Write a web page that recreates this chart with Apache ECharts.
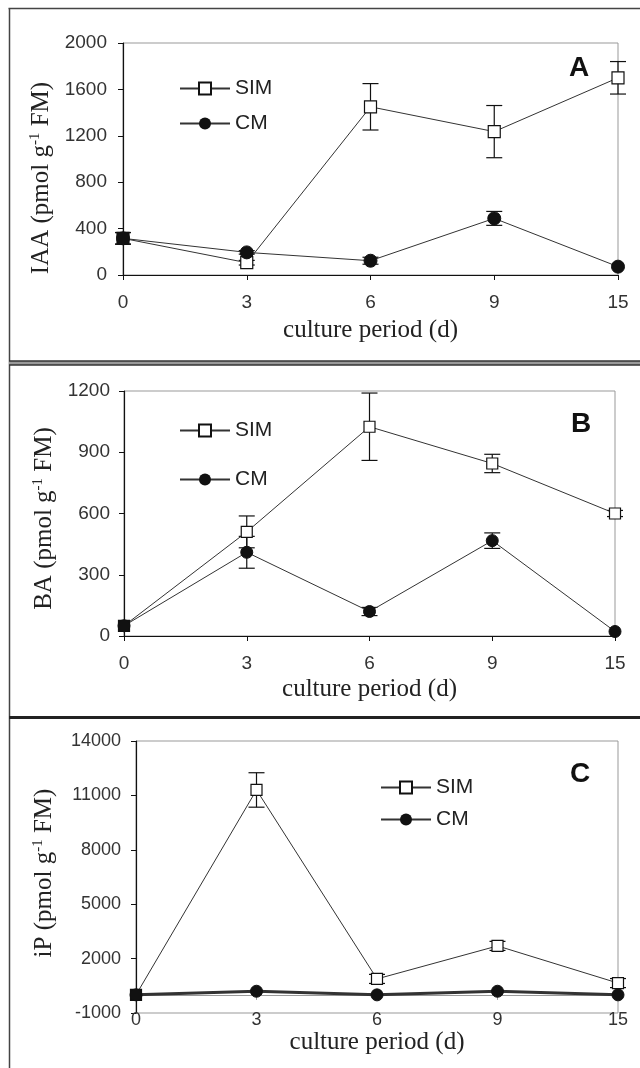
<!DOCTYPE html>
<html>
<head>
<meta charset="utf-8">
<script src="https://cdn.jsdelivr.net/npm/echarts@6/dist/echarts.min.js"></script>
<style>
html,body{margin:0;padding:0;background:#fff;}
#c{width:640px;height:1068px;}
</style>
</head>
<body>
<div id="c"></div>
<script>
// ---- data ----
const days = ['0', '3', '6', '9', '15'];

const iaaSIM = [316, 106, 1450, 1236, 1700];
const iaaSIMErr = [50, 20, 200, 225, 140];
const iaaCM = [316, 195, 123, 488, 72];
const iaaCMErr = [50, 15, 30, 60, 0];

const baSIM = [50, 510, 1025, 845, 600];
const baSIMErr = [0, 78, 165, 45, 15];
const baCM = [50, 410, 120, 467, 22];
const baCMErr = [0, 78, 20, 38, 0];

const ipSIM = [0, 11300, 880, 2700, 650];
const ipSIMErr = [0, 950, 250, 250, 250];
const ipCM = [0, 200, 0, 200, 0];
const ipCMErr = [0, 0, 0, 0, 0];

const iaaTicks = [0, 400, 800, 1200, 1600, 2000];
const baTicks = [0, 300, 600, 900, 1200];
const ipTicks = [-1000, 2000, 5000, 8000, 11000, 14000];

// ---- helpers ----
const SERIF = "'Liberation Serif', 'Times New Roman', serif";
const SANS = "'Liberation Sans', Arial, sans-serif";

function errRender(cap) {
  return function (params, api) {
    const x = api.value(0), v = api.value(1), e = api.value(2);
    if (!e) return null;
    const hi = api.coord([x, v + e]);
    const lo = api.coord([x, v - e]);
    const st = { stroke: '#111', lineWidth: 1.2 };
    return {
      type: 'group',
      children: [
        { type: 'line', shape: { x1: hi[0], y1: hi[1], x2: lo[0], y2: lo[1] }, style: st },
        { type: 'line', shape: { x1: hi[0] - cap, y1: hi[1], x2: hi[0] + cap, y2: hi[1] }, style: st },
        { type: 'line', shape: { x1: lo[0] - cap, y1: lo[1], x2: lo[0] + cap, y2: lo[1] }, style: st }
      ]
    };
  };
}
function errData(vals, errs) { return vals.map((v, i) => [i, v, errs[i]]); }

function simData(vals) {
  return vals.map((v, i) => i === 0 ? { value: v, itemStyle: { color: '#111' } } : v);
}

const grids = [
  { left: 123, right: 22, top: 43, height: 232 },
  { left: 124, right: 25, top: 391, height: 245 },
  { left: 136, right: 22, top: 741, height: 272 }
];

function xAxis(i, labelMargin, nameGap, lineColor, fs) {
  return {
    type: 'category', gridIndex: i, data: days, boundaryGap: false,
    axisLine: { lineStyle: { color: lineColor, width: 1.2 } },
    axisTick: { show: true, length: 5, lineStyle: { color: lineColor } },
    axisLabel: { margin: labelMargin, fontFamily: SANS, fontSize: fs, color: '#333' },
    name: 'culture period (d)', nameLocation: 'middle', nameGap: nameGap,
    nameTextStyle: { fontFamily: SERIF, fontSize: 25, color: '#222' },
    splitLine: { show: false }
  };
}

function yAxis(i, min, max, ticks, title, gap, pad, margin, fs) {
  return {
    type: 'value', gridIndex: i, min: min, max: max,
    axisLine: { show: true, lineStyle: { color: '#111', width: 1.2 } },
    axisTick: { show: true, length: 5, lineStyle: { color: '#111' }, customValues: ticks },
    axisLabel: { margin: margin, fontFamily: SANS, fontSize: fs, color: '#333', customValues: ticks,
      formatter: v => String(v) },
    splitLine: { show: false },
    name: title, nameLocation: 'middle', nameGap: gap,
    nameTextStyle: {
      fontFamily: SERIF, fontSize: 25, color: '#222', padding: pad,
      rich: { s: { fontFamily: SERIF, fontSize: 15, color: '#222', verticalAlign: 'top', padding: [0, 0, 12, 0] } }
    }
  };
}

function lineSeries(name, i, data, symbol, size, lw) {
  const isSim = name === 'SIM';
  return {
    name: name, type: 'line', xAxisIndex: i, yAxisIndex: i, data: data,
    symbol: symbol, symbolSize: size, z: 3,
    lineStyle: { color: '#333', width: lw },
    itemStyle: isSim ? { color: '#fff', borderColor: '#111', borderWidth: 1.2 } : { color: '#111', borderColor: '#111' },
    emphasis: { disabled: true }, animation: false
  };
}
function errSeries(i, vals, errs) {
  return {
    type: 'custom', xAxisIndex: i, yAxisIndex: i, z: 2,
    renderItem: errRender(8), data: errData(vals, errs),
    encode: { x: 0, y: 1 }, animation: false, silent: true
  };
}

function legend(left, top, gap) {
  return {
    left: left, top: top, orient: 'vertical', itemWidth: 50, itemHeight: 15, itemGap: gap,
    padding: 0, data: ['SIM', 'CM'], selectedMode: false,
    textStyle: { fontFamily: SANS, fontSize: 21, color: '#222', padding: [0, 0, 0, 0] }
  };
}

const chart = echarts.init(document.getElementById('c'), null, { renderer: 'canvas' });
chart.setOption({
  backgroundColor: '#fff',
  animation: false,
  grid: grids.map(g => Object.assign({ show: true, borderColor: '#999', borderWidth: 1, backgroundColor: 'transparent' }, g)),
  xAxis: [
    xAxis(0, 18, 43, '#111', 19),
    xAxis(1, 18, 41, '#111', 19),
    xAxis(2, -2, 12, '#999', 18)
  ],
  yAxis: [
    yAxis(0, 0, 2000, iaaTicks, 'IAA (pmol g{s|-1} FM)', 62, [0, 38, 0, 0], 16, 19),
    yAxis(1, 0, 1200, baTicks, 'BA (pmol g{s|-1} FM)', 65, [0, 10, 0, 0], 14, 19),
    yAxis(2, -1000, 14000, ipTicks, 'iP (pmol g{s|-1} FM)', 78, [0, 0, 0, 8], 15, 18)
  ],
  legend: [legend(179, 78, 14), legend(179, 420, 28), legend(380, 777, 11)],
  series: [
    errSeries(0, iaaSIM, iaaSIMErr), errSeries(0, iaaCM, iaaCMErr),
    lineSeries('SIM', 0, simData(iaaSIM), 'rect', 12, 1),
    lineSeries('CM', 0, iaaCM, 'circle', 13, 1),
    errSeries(1, baSIM, baSIMErr), errSeries(1, baCM, baCMErr),
    lineSeries('SIM', 1, simData(baSIM), 'rect', 11, 1),
    lineSeries('CM', 1, baCM, 'circle', 12, 1),
    errSeries(2, ipSIM, ipSIMErr), errSeries(2, ipCM, ipCMErr),
    lineSeries('SIM', 2, simData(ipSIM), 'rect', 11, 1),
    lineSeries('CM', 2, ipCM, 'circle', 12, 3)
  ],
  graphic: [
    // panel frames
    { type: 'line', shape: { x1: 8.5, y1: 8.5, x2: 640, y2: 8.5 }, style: { stroke: '#444', lineWidth: 1.5 } },
    { type: 'line', shape: { x1: 9.5, y1: 8.5, x2: 9.5, y2: 1068 }, style: { stroke: '#444', lineWidth: 1.5 } },
    { type: 'rect', shape: { x: 9, y: 361, width: 631, height: 4 }, style: { fill: '#999' } },
    { type: 'line', shape: { x1: 9, y1: 361, x2: 640, y2: 361 }, style: { stroke: '#333', lineWidth: 1.3 } },
    { type: 'line', shape: { x1: 9, y1: 365, x2: 640, y2: 365 }, style: { stroke: '#333', lineWidth: 1.3 } },
    { type: 'line', shape: { x1: 9, y1: 717.5, x2: 640, y2: 717.5 }, style: { stroke: '#222', lineWidth: 3 } },
    // panel letters
    { type: 'text', x: 579, y: 68, style: { text: 'A', fontFamily: SANS, fontWeight: 900, fontSize: 28, fill: '#111', align: 'center', verticalAlign: 'middle' } },
    { type: 'text', x: 581, y: 424, style: { text: 'B', fontFamily: SANS, fontWeight: 900, fontSize: 28, fill: '#111', align: 'center', verticalAlign: 'middle' } },
    { type: 'text', x: 580, y: 774, style: { text: 'C', fontFamily: SANS, fontWeight: 900, fontSize: 28, fill: '#111', align: 'center', verticalAlign: 'middle' } }
  ]
});
</script>
</body>
</html>
